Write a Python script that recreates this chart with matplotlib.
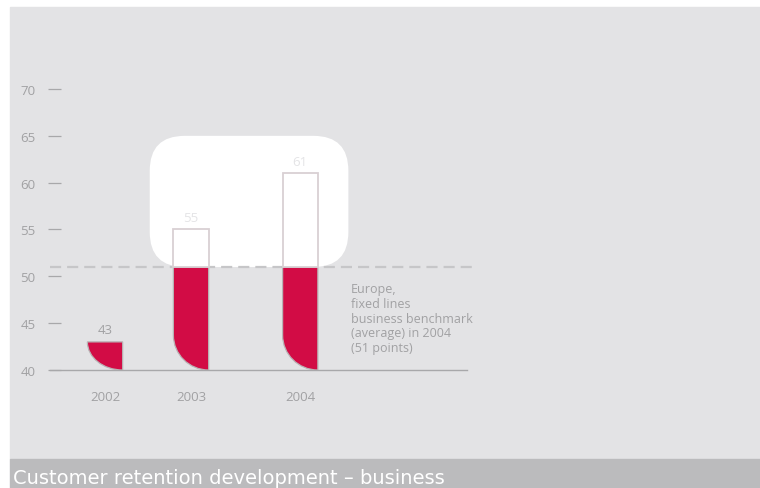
import numpy as np
import matplotlib.pyplot as plt
from matplotlib.patches import Rectangle, PathPatch, FancyBboxPatch
from matplotlib.path import Path

# data
years = ['2002', '2003', '2004']
retention = [43, 55, 61]
benchmark = 51
benchmark_note = 'Europe,\nfixed lines\nbusiness benchmark\n(average) in 2004\n(51 points)'
y_ticks = [40, 45, 50, 55, 60, 65, 70]
title = 'Customer retention development \u2013 business'

# layout
slots = [0, 1, 2.27]          # bar slots (2004 set a bit further out)
bar_w = 0.41
RED = '#d20c45'
GREY_TXT = '#a1a1a3'
PANEL = '#e3e3e5'

W, H = 760, 489
fig = plt.figure(figsize=(W / 100, H / 100), dpi=100)
fig.patch.set_facecolor('white')

# grey panel + caption bar
fig.patches.append(Rectangle((10 / W, (H - 460) / H), 750 / W, 452 / H,
                             transform=fig.transFigure, color=PANEL, zorder=-5))
fig.patches.append(Rectangle((10 / W, 0), 750 / W, (H - 460) / H,
                             transform=fig.transFigure, color='#bbbbbd', zorder=-5))
fig.text(13 / W, 1 / H, title, color='white', fontsize=14,
         family=['Liberation Sans Narrow', 'DejaVu Sans Condensed', 'DejaVu Sans'],
         va='bottom', ha='left')

ax = fig.add_axes([48 / W, (H - 371) / H, 425 / W, 281 / H])
ax.set_zorder(1)
ax.set_facecolor('none')
ax.set_xlim(-0.663, 4.279)
ax.set_ylim(40, 70)
for s in ax.spines.values():
    s.set_visible(False)

# unit sizes in pixels, for round corners
px_x = 425 / (4.279 + 0.663)
px_y = 281 / 30.0

# white rounded panel behind the upper part of the bars
r = 35 / px_x
box = FancyBboxPatch((slots[1] - 0.48, benchmark), slots[2] + 0.56 - (slots[1] - 0.48), 14,
                     boxstyle=f'round,pad=0,rounding_size={r}',
                     mutation_aspect=px_x / px_y, fc='white', ec='none', zorder=1)
ax.add_patch(box)

# benchmark and base lines
ax.plot([-0.64, 4.279], [benchmark, benchmark], color='#c6c6c8', lw=1.6,
        dashes=(5, 2.7), zorder=2, clip_on=False)
ax.plot([-0.64, 4.21], [40, 40], color='#a8a8aa', lw=1.0, zorder=2, clip_on=False)


def red_part(x0, top, w):
    # bar with a rounded lower-left corner
    h = top - 40
    rx = w
    ry = min(35 / px_y, h)
    k = 0.5523
    verts = [(x0, top), (x0 + w, top), (x0 + w, 40), (x0 + rx, 40),
             (x0 + rx - rx * k, 40), (x0, 40 + ry - ry * k), (x0, 40 + ry),
             (x0, top)]
    codes = [Path.MOVETO, Path.LINETO, Path.LINETO, Path.LINETO,
             Path.CURVE4, Path.CURVE4, Path.CURVE4, Path.CLOSEPOLY]
    return Path(verts, codes)


for x, v in zip(slots, retention):
    x0 = x - bar_w / 2
    top = min(v, benchmark)
    ax.add_patch(PathPatch(red_part(x0, top, bar_w), fc=RED, ec='#b9b2b4',
                           lw=0.9, zorder=3))
    if v > benchmark:
        ax.add_patch(Rectangle((x0, benchmark), bar_w, v - benchmark, fc='white',
                               ec='#d9d0d3', lw=1.3, zorder=3))
        ax.text(x, v + 0.6, str(v), ha='center', va='bottom', color='#e4e4e6',
                fontsize=9.5, family='Open Sans')
    else:
        ax.text(x, v + 0.6, str(v), ha='center', va='bottom', color=GREY_TXT,
                fontsize=9.5, family='Open Sans')

ax.text(2.86, 49.4, benchmark_note, ha='left', va='top', color=GREY_TXT,
        fontsize=9, family='Open Sans', linespacing=1.18)

ax.set_yticks(y_ticks)
ax.set_yticklabels([str(t) for t in y_ticks], color=GREY_TXT, fontsize=9.5,
                   family='Open Sans')
ax.tick_params(axis='y', direction='in', length=9, width=0.9, color='#a8a8aa', pad=9)
ax.set_xticks(slots)
ax.set_xticklabels(years, color=GREY_TXT, fontsize=9.5, family='Open Sans')
ax.tick_params(axis='x', length=0, pad=14.5)

fig.savefig('out.png', dpi=100)
